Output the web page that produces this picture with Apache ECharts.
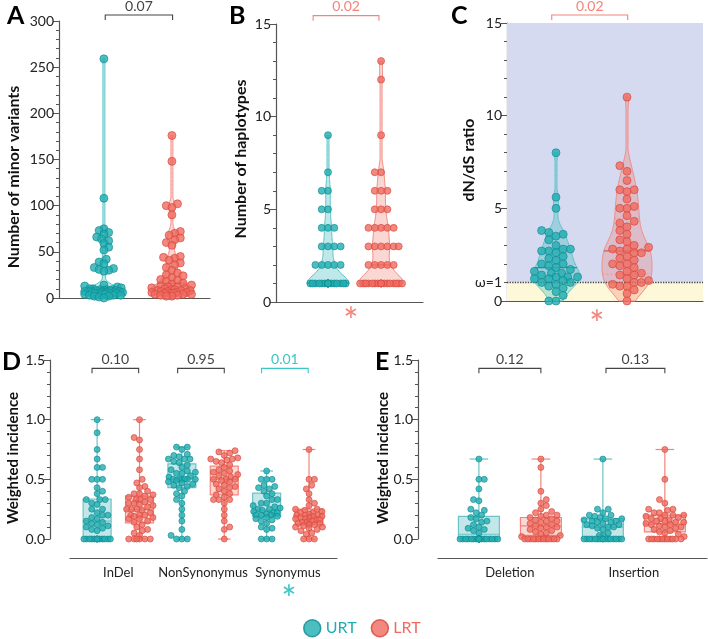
<!DOCTYPE html>
<html>
<head>
<meta charset="utf-8">
<script src="https://cdn.jsdelivr.net/npm/echarts@6/dist/echarts.min.js"></script>
<style>
  html, body { margin: 0; padding: 0; background: #fff; }
  #main { width: 708px; height: 639px; }
</style>
</head>
<body>
<div id="main"></div>
<script>
// values
const groups = ['URT', 'LRT'];

// A: number of minor variants
const urtMinor = [259, 108, 75, 73, 71, 69, 66, 64, 62, 59, 55, 52, 42, 39, 37, 33, 32, 31, 30, 29,
  14, 13, 12, 11, 10, 10, 9, 9, 9, 8, 8, 8, 8, 7, 7, 7, 7, 7, 6, 6, 6, 6, 6, 5, 5, 5, 5, 4, 4, 4, 3, 3, 3, 2, 2, 1, 0];
const lrtMinor = [176, 148, 102, 100, 98, 90, 72, 70, 68, 65, 63, 60, 57, 45, 44, 43, 41, 38, 36, 33, 30, 27,
  25, 24, 22, 20, 19, 18, 16, 15, 14, 13, 12, 12, 11, 10, 10, 9, 9, 8, 8, 8, 7, 7, 6, 6, 6, 5, 5, 5, 4, 4, 4, 3, 3, 2, 2];

// B: number of haplotypes
const urtHaplo = [9, 7, 6, 6, 5, 5, 4, 4, 4, 3, 3, 3, 3, 2, 2, 2, 2, 2,
  1, 1, 1, 1, 1, 1, 1, 1, 1, 1, 1, 1, 1, 1, 1, 1, 1, 1, 1, 1];
const lrtHaplo = [13, 12, 9, 7, 7, 6, 6, 6, 5, 5, 5, 4, 4, 4, 4, 4, 3, 3, 3, 3, 3, 3, 2, 2, 2, 2, 2,
  1, 1, 1, 1, 1, 1, 1, 1, 1, 1, 1, 1, 1, 1, 1, 1, 1, 1];

// C: dN/dS ratio
const urtDnds = [8.0, 5.6, 5.0, 3.8, 3.7, 3.6, 3.5, 3.3, 3.0, 2.8, 2.8, 2.7, 2.7, 2.6, 2.4, 2.3, 2.2, 2.0, 2.0,
  1.9, 1.8, 1.7, 1.6, 1.5, 1.5, 1.4, 1.3, 1.3, 1.3, 1.2, 1.2, 1.1, 1.0, 1.0, 0.9, 0.8, 0.7, 0.5, 0.3, 0, 0];
const lrtDnds = [11, 7.3, 7.0, 6.5, 6.0, 6.0, 5.9, 5.5, 5.1, 5.0, 5.0, 4.6, 4.3, 4.2, 4.0, 3.8, 3.6, 3.3, 3.2,
  3.0, 2.9, 2.8, 2.8, 2.7, 2.6, 2.6, 2.4, 2.3, 2.2, 2.0, 2.0, 1.9, 1.8, 1.6, 1.5, 1.4, 1.4, 1.2, 1.1, 1.0, 1.0,
  0.9, 0.8, 0.8, 0.6, 0.4, 0];

// D: weighted incidence by mutation type
const mutTypes = ['InDel', 'NonSynonymus', 'Synonymus'];
const urtInDel = [1.0, 0.89, 0.75, 0.67, 0.6, 0.6, 0.5, 0.5, 0.5, 0.43, 0.4, 0.38, 0.33, 0.33, 0.33, 0.3, 0.29,
  0.25, 0.25, 0.22, 0.2, 0.2, 0.18, 0.17, 0.15, 0.14, 0.13, 0.12, 0.11, 0.1, 0.09, 0.08, 0.07,
  0, 0, 0, 0, 0, 0, 0, 0, 0, 0, 0, 0, 0, 0];
const lrtInDel = [1.0, 0.85, 0.83, 0.75, 0.67, 0.58, 0.5, 0.47, 0.44, 0.43, 0.4, 0.38, 0.38, 0.37, 0.36, 0.35,
  0.33, 0.33, 0.33, 0.31, 0.3, 0.3, 0.29, 0.28, 0.27, 0.25, 0.25, 0.25, 0.24, 0.22, 0.2, 0.2, 0.2, 0.19, 0.18,
  0.17, 0.17, 0.15, 0.14, 0.12, 0.1, 0.08, 0.07, 0.05, 0.03, 0, 0, 0, 0, 0, 0];
const urtNonSyn = [0.77, 0.77, 0.75, 0.71, 0.70, 0.69, 0.67, 0.67, 0.67, 0.65, 0.64, 0.62, 0.60, 0.58, 0.57,
  0.56, 0.55, 0.55, 0.53, 0.52, 0.50, 0.50, 0.50, 0.50, 0.50, 0.50, 0.49, 0.48, 0.47, 0.46, 0.45, 0.44, 0.43,
  0.40, 0.38, 0.36, 0.33, 0.30, 0.25, 0.20, 0.15, 0.08, 0.03, 0, 0, 0];
const lrtNonSyn = [0.74, 0.73, 0.72, 0.70, 0.68, 0.67, 0.67, 0.66, 0.65, 0.64, 0.62, 0.60, 0.58, 0.57, 0.56,
  0.55, 0.54, 0.53, 0.52, 0.50, 0.50, 0.50, 0.49, 0.48, 0.46, 0.45, 0.44, 0.43, 0.42, 0.40, 0.38, 0.37, 0.35,
  0.33, 0.33, 0.33, 0.30, 0.25, 0.20, 0.15, 0.10, 0.08, 0];
const urtSyn = [0.57, 0.50, 0.50, 0.50, 0.45, 0.44, 0.43, 0.42, 0.40, 0.38, 0.36, 0.33, 0.33, 0.30, 0.30, 0.28,
  0.27, 0.26, 0.25, 0.25, 0.24, 0.23, 0.22, 0.22, 0.21, 0.20, 0.20, 0.20, 0.19, 0.18, 0.17, 0.16, 0.15, 0.13,
  0.10, 0.09, 0.08, 0, 0, 0];
const lrtSyn = [0.75, 0.50, 0.50, 0.45, 0.42, 0.38, 0.33, 0.30, 0.28, 0.25, 0.25, 0.24, 0.23, 0.22, 0.22, 0.21,
  0.20, 0.20, 0.20, 0.19, 0.19, 0.18, 0.18, 0.17, 0.17, 0.16, 0.16, 0.15, 0.15, 0.14, 0.14, 0.13, 0.13, 0.12,
  0.12, 0.11, 0.10, 0.10, 0.09, 0.08, 0.07, 0.05, 0.04, 0, 0, 0];
// box stats: min, q1, median, q3, max
const urtBoxD = [[0, 0, 0.15, 0.335, 1.0], [0, 0.43, 0.5, 0.63, 0.77], [0, 0.19, 0.24, 0.385, 0.57]];
const lrtBoxD = [[0, 0.135, 0.245, 0.36, 1.0], [0, 0.37, 0.5, 0.61, 0.74], [0, 0.12, 0.19, 0.25, 0.75]];

// E: weighted incidence by indel type
const indelTypes = ['Deletion', 'Insertion'];
const urtDel = [0.67, 0.50, 0.50, 0.42, 0.33, 0.32, 0.25, 0.24, 0.22, 0.20, 0.18, 0.17, 0.15, 0.14, 0.12, 0.10,
  0.09, 0.08, 0.07, 0.05, 0, 0, 0, 0, 0, 0, 0, 0, 0, 0, 0, 0, 0, 0, 0, 0, 0, 0, 0, 0, 0, 0];
const lrtDel = [0.67, 0.60, 0.40, 0.33, 0.30, 0.28, 0.25, 0.23, 0.22, 0.20, 0.20, 0.19, 0.18, 0.17, 0.16, 0.15,
  0.15, 0.14, 0.13, 0.12, 0.11, 0.10, 0.10, 0.09, 0.08, 0.07, 0.06, 0.05, 0.04, 0.03, 0.02,
  0, 0, 0, 0, 0, 0, 0, 0, 0, 0, 0, 0, 0];
const urtIns = [0.67, 0.25, 0.25, 0.22, 0.20, 0.20, 0.19, 0.18, 0.17, 0.17, 0.16, 0.15, 0.15, 0.14, 0.14, 0.13,
  0.12, 0.12, 0.11, 0.10, 0.10, 0.09, 0.08, 0.05, 0.03, 0.03, 0, 0, 0, 0, 0, 0, 0, 0, 0, 0, 0, 0, 0, 0, 0, 0];
const lrtIns = [0.75, 0.50, 0.33, 0.30, 0.25, 0.25, 0.24, 0.22, 0.22, 0.20, 0.20, 0.20, 0.19, 0.18, 0.17, 0.17,
  0.16, 0.15, 0.15, 0.14, 0.14, 0.13, 0.12, 0.12, 0.11, 0.10, 0.10, 0.09, 0.08, 0.07, 0.06, 0.05, 0.04, 0.02,
  0, 0, 0, 0, 0, 0, 0, 0, 0, 0, 0, 0];
const urtBoxE = [[0, 0, 0.04, 0.19, 0.67], [0, 0, 0.10, 0.17, 0.67]];
const lrtBoxE = [[0, 0.03, 0.11, 0.18, 0.67], [0, 0.06, 0.125, 0.20, 0.75]];

// p values and which group they flag
const pA = ['0.07'], sigA = ['ns'];
const pB = ['0.02'], sigB = ['LRT'];
const pC = ['0.02'], sigC = ['LRT'];
const pD = ['0.10', '0.95', '0.01'], sigD = ['ns', 'ns', 'URT'];
const pE = ['0.12', '0.13'], sigE = ['ns', 'ns'];

// ---- styling ----
const FONT = 'Lato, "Open Sans", sans-serif';
const dotFill = { URT: '#1faeb2', LRT: '#ef6a5f' };
const dotLine = { URT: '#10898d', LRT: '#d6463b' };
const vioFill = { URT: 'rgba(40,180,184,0.30)', LRT: 'rgba(242,110,100,0.28)' };
const vioLine = { URT: '#5cc5c8', LRT: '#f08d85' };
const boxFill = { URT: '#c3e7e9', LRT: '#fbd8d4' };
const boxLine = { URT: '#6cc3c6', LRT: '#f2867c' };
const sigCol = { ns: '#444', URT: '#3cc6c8', LRT: '#f2857b' };

const grids = [
  { left: 59, top: 21, width: 151, height: 277 },
  { left: 276, top: 24, width: 147, height: 278 },
  { left: 507, top: 23, width: 196, height: 278 },
  { left: 70, top: 360, width: 267, height: 179 },
  { left: 438, top: 360, width: 269, height: 179 }
];
const yRange = [[0, 300], [0, 15], [0, 15], [0, 1.5], [0, 1.5]];
const xRange = [[0.34, 2.56], [0.02, 2.79], [0.31, 3.07], [0.36, 6.66], [0.34, 4.68]];
const ppu = yRange.map((r, i) => grids[i].height / (r[1] - r[0]));

// beeswarm offsets in pixels, shrinking the spacing when a row is full
function swarm(vals, pxPerUnit, diam, maxHalf) {
  const order = vals.map((v, i) => i).sort((a, b) => vals[a] - vals[b]);
  const placed = [];
  const out = new Array(vals.length).fill(0);
  order.forEach((i, n) => {
    const y = vals[i] * pxPerUnit;
    let pick = null;
    for (const f of [1, 0.8, 0.65, 0.5, 0.35]) {
      const d = diam * f, step = d / 2;
      for (let k = 0; k * step <= maxHalf && pick === null; k++) {
        const cands = k === 0 ? [0] : (n % 2 ? [-k * step, k * step] : [k * step, -k * step]);
        for (const x of cands) {
          let ok = true;
          for (const p of placed) {
            if (Math.hypot(p.x - x, p.y - y) < d) { ok = false; break; }
          }
          if (ok) { pick = x; break; }
        }
      }
      if (pick !== null) break;
    }
    if (pick === null) pick = 0;
    placed.push({ x: pick, y });
    out[i] = pick;
  });
  return out;
}

function dots(vals, center, ax, size, half, grp, gap) {
  const off = swarm(vals, ppu[ax], size * (gap || 0.9), half);
  return {
    type: 'scatter', name: grp, xAxisIndex: ax, yAxisIndex: ax, z: 5, silent: true,
    symbolSize: size,
    itemStyle: { color: dotFill[grp], borderColor: dotLine[grp], borderWidth: 0.8 },
    data: vals.map((v, i) => ({ value: [center, v], symbolOffset: [off[i], 0] }))
  };
}

function violin(vals, center, ax, bw, half, grp) {
  const s = vals.slice().sort((a, b) => a - b);
  const lo = s[0], hi = s[s.length - 1];
  const dens = y => s.reduce((t, v) => t + Math.exp(-0.5 * Math.pow((y - v) / bw, 2)), 0);
  const ys = [];
  for (let k = 0; k <= 120; k++) ys.push(lo + (hi - lo) * k / 120);
  const ds = ys.map(dens);
  const dmax = Math.max(...ds);
  const q = p => {
    const idx = (s.length - 1) * p, a = Math.floor(idx), b = Math.ceil(idx);
    return s[a] + (s[b] - s[a]) * (idx - a);
  };
  const marks = [q(0.25), q(0.5), q(0.75)];
  return {
    type: 'custom', xAxisIndex: ax, yAxisIndex: ax, z: 2, silent: true,
    data: [[center, lo]],
    renderItem(params, api) {
      const right = [], left = [];
      ys.forEach((y, k) => {
        const p = api.coord([center, y]);
        const w = Math.max(1, half * ds[k] / dmax);
        right.push([p[0] + w, p[1]]);
        left.unshift([p[0] - w, p[1]]);
      });
      const children = [{
        type: 'polygon', shape: { points: right.concat(left) },
        style: { fill: vioFill[grp], stroke: vioLine[grp], lineWidth: 1 }
      }];
      marks.forEach((m, j) => {
        const p = api.coord([center, m]);
        const w = half * dens(m) / dmax;
        children.push({
          type: 'line', shape: { x1: p[0] - w, y1: p[1], x2: p[0] + w, y2: p[1] },
          style: j === 1
            ? { stroke: dotLine[grp], lineWidth: 1.2, opacity: 0.8 }
            : { stroke: vioLine[grp], lineWidth: 0.8, lineDash: [2, 2] }
        });
      });
      return { type: 'group', children };
    }
  };
}

function boxes(stats, centers, ax, grp) {
  return {
    type: 'custom', xAxisIndex: ax, yAxisIndex: ax, z: 2, silent: true,
    data: stats.map((b, i) => [centers[i]].concat(b)),
    renderItem(params, api) {
      const c = api.value(0);
      const [mn, q1, md, q3, mx] = [1, 2, 3, 4, 5].map(k => api.coord([c, api.value(k)])[1]);
      const x = api.coord([c, 0])[0];
      const bw = api.size([0.66, 0])[0], cw = api.size([0.3, 0])[0];
      const ln = { stroke: boxLine[grp], lineWidth: 1.2 };
      return {
        type: 'group', children: [
          { type: 'line', shape: { x1: x, y1: q3, x2: x, y2: mx }, style: ln },
          { type: 'line', shape: { x1: x, y1: q1, x2: x, y2: mn }, style: ln },
          { type: 'line', shape: { x1: x - cw / 2, y1: mx, x2: x + cw / 2, y2: mx }, style: ln },
          { type: 'line', shape: { x1: x - cw / 2, y1: mn, x2: x + cw / 2, y2: mn }, style: ln },
          { type: 'rect', shape: { x: x - bw / 2, y: q3, width: bw, height: Math.max(q1 - q3, 0.5) },
            style: { fill: boxFill[grp], stroke: boxLine[grp], lineWidth: 1.2 } },
          { type: 'line', shape: { x1: x - bw / 2, y1: md, x2: x + bw / 2, y2: md }, style: ln }
        ]
      };
    }
  };
}

// brackets: [x1, x2, level] in axis units
function brackets(list, labels, sig, ax) {
  return {
    type: 'custom', xAxisIndex: ax, yAxisIndex: ax, z: 6, silent: true, clip: false,
    data: list.map(b => [b[0], b[2]]),
    renderItem(params, api) {
      const b = list[params.dataIndex];
      const col = sigCol[sig[params.dataIndex]];
      const p1 = api.coord([b[0], b[2]]), p2 = api.coord([b[1], b[2]]);
      return {
        type: 'group', children: [
          { type: 'polyline', shape: { points: [[p1[0], p1[1] + 5], p1, p2, [p2[0], p2[1] + 5]] },
            style: { stroke: col, lineWidth: 1.1, fill: null } },
          { type: 'text', x: (p1[0] + p2[0]) / 2, y: p1[1] - 9,
            style: { text: labels[params.dataIndex], fill: col, font: '14px ' + FONT,
              align: 'center', verticalAlign: 'middle' } }
        ]
      };
    }
  };
}

const axisCol = '#555';
const tickLabel = { fontFamily: FONT, fontSize: 14, color: '#222', margin: 5 };
function yAx(i, interval, extra) {
  return Object.assign({
    gridIndex: i, type: 'value', min: yRange[i][0], max: yRange[i][1], interval,
    axisLine: { show: true, lineStyle: { color: axisCol, width: 1.2 } },
    axisTick: { show: true, length: 6, lineStyle: { color: axisCol } },
    minorTick: { show: true, splitNumber: 5, length: 3, lineStyle: { color: axisCol } },
    axisLabel: tickLabel,
    splitLine: { show: false }
  }, extra || {});
}
function xAx(i, extra) {
  return Object.assign({
    gridIndex: i, type: 'value', min: xRange[i][0], max: xRange[i][1],
    axisLine: { show: true, onZero: false, lineStyle: { color: axisCol, width: 1.2 } },
    axisTick: { show: false }, axisLabel: { show: false }, splitLine: { show: false }
  }, extra || {});
}
function catAx(i, names, positions) {
  return xAx(i, {
    offset: 19,
    axisLabel: {
      show: true, customValues: positions, margin: 8,
      fontFamily: FONT, fontSize: 13, color: '#222',
      formatter: v => names[positions.indexOf(v)] || ''
    }
  });
}

const series = [
  // C background zones
  {
    type: 'line', xAxisIndex: 2, yAxisIndex: 2, z: 0, silent: true, symbol: 'none',
    lineStyle: { opacity: 0 }, data: [[xRange[2][0], 0]],
    markArea: {
      silent: true,
      data: [
        [{ yAxis: 1, itemStyle: { color: '#d6daf0' } }, { yAxis: 15 }],
        [{ yAxis: 0, itemStyle: { color: '#fdf8d8' } }, { yAxis: 1 }]
      ]
    }
  },
  {
    type: 'line', xAxisIndex: 2, yAxisIndex: 2, z: 4, silent: true, symbol: 'none',
    lineStyle: { opacity: 0 }, data: [[xRange[2][0], 0]],
    markLine: {
      silent: true, symbol: 'none', label: { show: false },
      lineStyle: { type: 'dotted', color: '#444', width: 1.3 },
      data: [{ yAxis: 1 }]
    }
  },
  violin(urtMinor, 1, 0, 5, 21, 'URT'),
  violin(lrtMinor, 2, 0, 6, 22, 'LRT'),
  dots(urtMinor, 1, 0, 8, 20, 'URT', 0.6),
  dots(lrtMinor, 2, 0, 8, 21, 'LRT', 0.7),
  violin(urtHaplo, 1, 1, 0.45, 21, 'URT'),
  violin(lrtHaplo, 2, 1, 0.5, 22, 'LRT'),
  dots(urtHaplo, 1, 1, 7, 20, 'URT'),
  dots(lrtHaplo, 2, 1, 7, 21, 'LRT'),
  violin(urtDnds, 1, 2, 0.45, 24, 'URT'),
  violin(lrtDnds, 2, 2, 0.65, 25, 'LRT'),
  dots(urtDnds, 1, 2, 8, 22, 'URT'),
  dots(lrtDnds, 2, 2, 8, 24, 'LRT'),
  boxes(urtBoxD, [1, 3, 5], 3, 'URT'),
  boxes(lrtBoxD, [2, 4, 6], 3, 'LRT'),
  dots(urtInDel, 1, 3, 6, 14, 'URT'),
  dots(lrtInDel, 2, 3, 6, 14, 'LRT'),
  dots(urtNonSyn, 3, 3, 6, 14, 'URT'),
  dots(lrtNonSyn, 4, 3, 6, 14, 'LRT'),
  dots(urtSyn, 5, 3, 6, 14, 'URT'),
  dots(lrtSyn, 6, 3, 6, 14, 'LRT'),
  boxes(urtBoxE, [1, 3], 4, 'URT'),
  boxes(lrtBoxE, [2, 4], 4, 'LRT'),
  dots(urtDel, 1, 4, 6, 20, 'URT'),
  dots(lrtDel, 2, 4, 6, 20, 'LRT'),
  dots(urtIns, 3, 4, 6, 20, 'URT'),
  dots(lrtIns, 4, 4, 6, 20, 'LRT'),
  brackets([[1.02, 2.01, 306.5]], pA, sigA, 0),
  brackets([[0.72, 1.96, 15.45]], pB, sigB, 1),
  brackets([[0.94, 2.01, 15.43]], pC, sigC, 2),
  brackets([[0.88, 1.98, 1.43], [2.9, 4.0, 1.43], [4.88, 5.98, 1.43]], pD, sigD, 3),
  brackets([[1.0, 2.0, 1.43], [3.05, 4.0, 1.43]], pE, sigE, 4)
];

const letter = (t, x, y) => ({
  type: 'text', x, y, silent: true,
  style: { text: t, font: 'bold 25px ' + FONT, fill: '#000' }
});
const note = (t, x, y, size, col) => ({
  type: 'text', x, y, silent: true,
  style: { text: t, font: size + 'px ' + FONT, fill: col, align: 'center', verticalAlign: 'middle' }
});
// vertical axis titles
const title = (t, x, y, size) => ({
  type: 'text', x, y, rotation: Math.PI / 2, silent: true,
  style: { text: t, font: 'bold ' + size + 'px ' + FONT, fill: '#111', align: 'center', verticalAlign: 'middle' }
});

const option = {
  animation: false,
  backgroundColor: '#fff',
  grid: grids.map(g => Object.assign({ containLabel: false, outerBoundsMode: 'none' }, g)),
  xAxis: [
    xAx(0), xAx(1), xAx(2),
    catAx(3, mutTypes, [1.5, 3.5, 5.5]),
    catAx(4, indelTypes, [1.5, 3.5])
  ],
  yAxis: [
    yAx(0, 50),
    yAx(1, 5),
    yAx(2, 5, {
      axisLabel: Object.assign({}, tickLabel, {
        customValues: [0, 1, 5, 10, 15],
        formatter: v => (v === 1 ? 'ω=1' : String(v))
      })
    }),
    yAx(3, 0.5, { offset: 20, axisLabel: Object.assign({}, tickLabel, { formatter: v => v.toFixed(1) }) }),
    yAx(4, 0.5, { offset: 20, axisLabel: Object.assign({}, tickLabel, { formatter: v => v.toFixed(1) }) })
  ],
  legend: {
    left: 298, top: 614, itemWidth: 17, itemHeight: 17, itemGap: 14, icon: 'circle',
    selectedMode: false,
    textStyle: { fontFamily: FONT, fontSize: 16 },
    data: groups.map(g => ({
      name: g,
      itemStyle: { color: dotFill[g], borderColor: dotLine[g], borderWidth: 1.5 },
      textStyle: { color: dotFill[g] }
    }))
  },
  graphic: [
    letter('A', 7, 3), letter('B', 229, 3), letter('C', 451, 3),
    letter('D', 2, 349), letter('E', 375, 349),
    title('Number of minor variants', 14, 177, 16),
    title('Number of haplotypes', 241, 159, 16),
    title('dN/dS ratio', 469, 160, 16),
    title('Weighted incidence', 13, 458, 15),
    title('Weighted incidence', 383, 458, 15),
    note('ω>1', 682, 182, 14, '#222'),
    note('ω<1', 685, 293, 14, '#222'),
    note('*', 351, 322, 36, sigCol.LRT),
    note('*', 597, 325, 36, sigCol.LRT),
    note('*', 289, 600, 36, sigCol.URT)
  ],
  series
};

const chart = echarts.init(document.getElementById('main'), null, { renderer: 'canvas' });
chart.setOption(option);
</script>
</body>
</html>
